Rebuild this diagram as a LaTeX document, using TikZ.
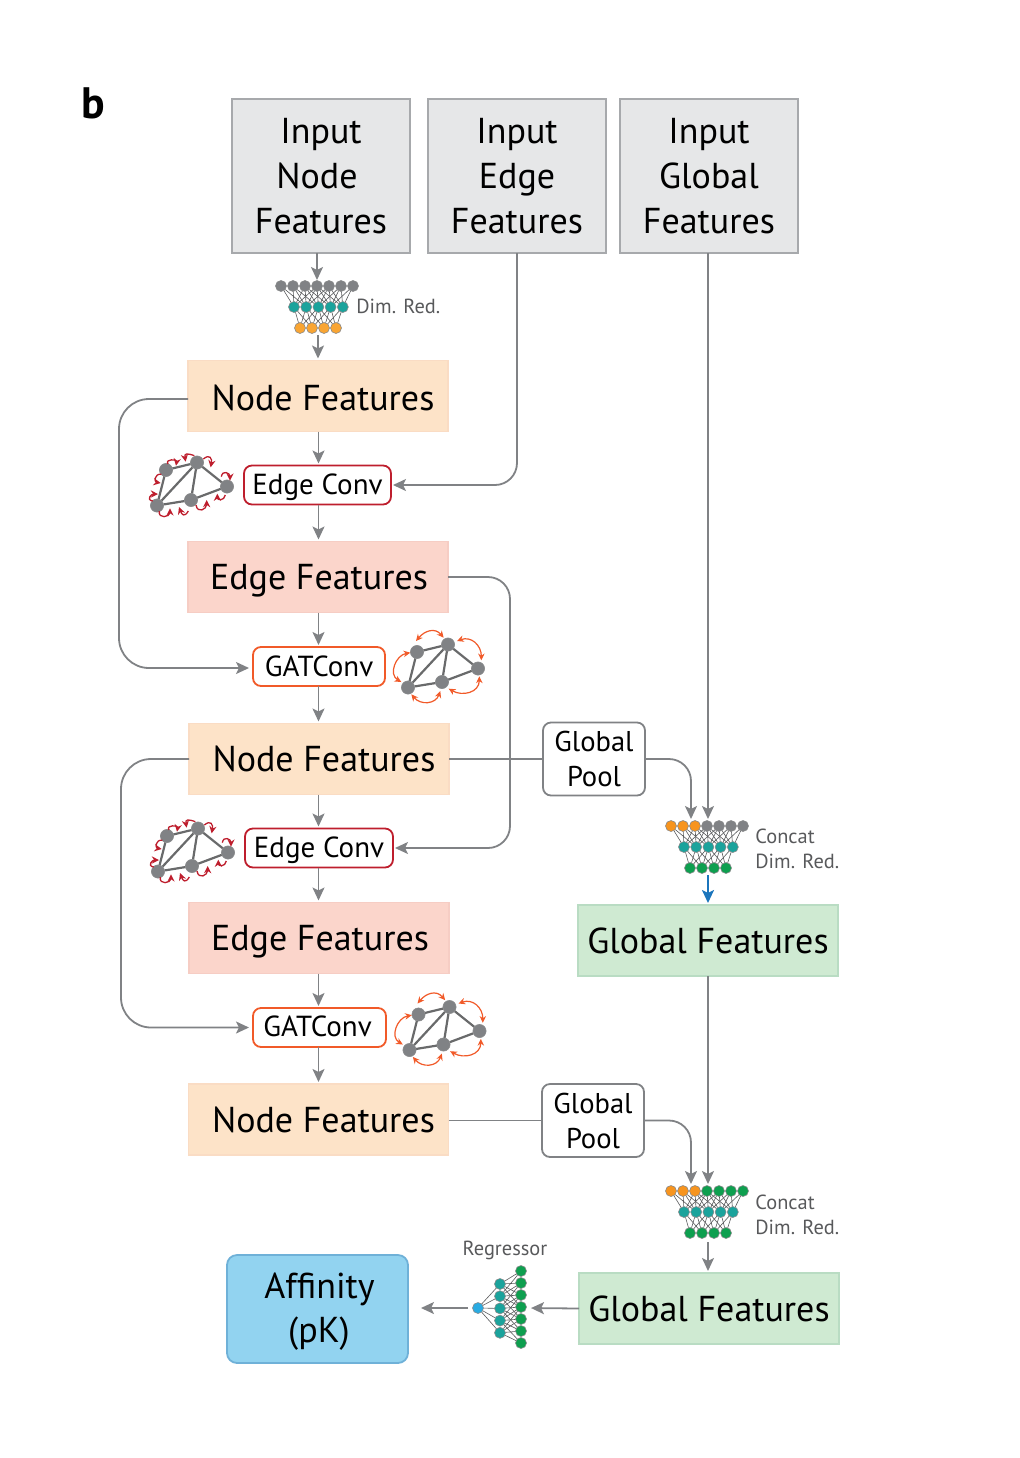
\documentclass[tikz,border=0pt]{standalone}
\usepackage{fontspec}
\setmainfont{PT Sans}
\usetikzlibrary{arrows.meta,backgrounds,calc}
\definecolor{lineg}{HTML}{808285}
\definecolor{darkg}{HTML}{58595B}
\definecolor{dotg}{HTML}{808285}
\definecolor{tealc}{HTML}{1BA39C}
\definecolor{orgc}{HTML}{F9A533}
\definecolor{orgd}{HTML}{F7941E}
\definecolor{grnc}{HTML}{0E9F4F}
\definecolor{bluc}{HTML}{29ABE2}
\definecolor{arrb}{HTML}{1B75BC}
\definecolor{redc}{HTML}{BE1E2D}
\definecolor{ornc}{HTML}{F15A29}
\definecolor{inpd}{HTML}{A7A9AC}\definecolor{inpf}{HTML}{E6E7E8}
\definecolor{nfd}{HTML}{FADCC4}\definecolor{nff}{HTML}{FDE3C8}
\definecolor{efd}{HTML}{F6CDC4}\definecolor{eff}{HTML}{FBD5CB}
\definecolor{gfd}{HTML}{B9DCC3}\definecolor{gff}{HTML}{CFEAD2}
\definecolor{afd}{HTML}{6FB1D8}\definecolor{aff}{HTML}{92D3F0}
\tikzset{
  box/.style={inner sep=0pt,outer sep=0pt,align=center,line width=0.9pt,text=black},
  inputbox/.style={box,draw=inpd,fill=inpf,minimum width=89pt,minimum height=77pt,font=\fontsize{18}{22.4}\selectfont},
  bigbox/.style={box,minimum width=130pt,minimum height=35.5pt,text height=13pt,text depth=0pt,font=\fontsize{18}{22}\selectfont},
  nfbox/.style={bigbox,draw=nfd,fill=nff},
  efbox/.style={bigbox,draw=efd,fill=eff,text height=12pt},
  gfbox/.style={bigbox,draw=gfd,fill=gff},
  opbox/.style={box,rounded corners=4pt,fill=white,minimum height=19.5pt,text height=9pt,text depth=0pt,font=\fontsize{14.5}{18}\selectfont},
  poolbox/.style={box,rounded corners=4pt,fill=white,draw=lineg,minimum width=51pt,minimum height=36.5pt,font=\fontsize{14.3}{17.5}\selectfont},
  affbox/.style={box,rounded corners=5pt,draw=afd,fill=aff,minimum width=90.5pt,minimum height=54pt,font=\fontsize{18}{22}\selectfont},
  captxt/.style={inner sep=0pt,text=darkg,font=\fontsize{10.2}{12.5}\selectfont},
  conn/.style={draw=lineg,line width=0.9pt,-{Stealth[length=6.5pt,width=6pt,inset=1.5pt]},shorten >=1pt},
  wire/.style={draw=lineg,line width=0.9pt},
  dot/.style={circle,draw=darkg!70,line width=0.3pt,minimum size=5.5pt,inner sep=0pt,outer sep=0pt},
  gdot/.style={circle,draw=darkg!70,fill=dotg,line width=0.3pt,minimum size=6.6pt,inner sep=0pt,outer sep=0pt},
  netw/.style={draw=darkg,line width=0.3pt},
  gedge/.style={draw=darkg!90,line width=1.1pt},
  redl/.style={draw=redc,line width=0.65pt,-{Stealth[length=3.6pt,width=3.6pt]},looseness=2},
  orgl/.style={draw=ornc,line width=0.6pt,looseness=1.25,{Stealth[length=3.4pt,width=3.2pt]}-{Stealth[length=3.4pt,width=3.2pt]}},
}
% feed-forward net: prefix, left x, top y, colours of the seven top dots, colour of bottom dots
\newcommand{\ffnet}[5]{%
  \foreach \i/\c in {#4}{\node[dot,fill=\c] (#1t\i) at ({#2+12*(\i-1)},#3) {};}
  \foreach \j in {1,...,5}{\node[dot,fill=tealc] (#1m\j) at ({#2+13+12.2*(\j-1)},{#3+21}) {};}
  \foreach \k in {1,...,4}{\node[dot,fill=#5] (#1b\k) at ({#2+19+12*(\k-1)},{#3+42}) {};}
  \begin{scope}[on background layer]
  \foreach \i in {1,...,7}{\foreach \j in {1,...,5}{
    \pgfmathtruncatemacro{\dd}{\i-\j}
    \ifnum\dd>-2\ifnum\dd<4 \draw[netw] (#1t\i) -- (#1m\j);\fi\fi}}
  \foreach \j in {1,...,5}{\foreach \k in {1,...,4}{
    \pgfmathtruncatemacro{\dd}{\j-\k}
    \ifnum\dd>-2\ifnum\dd<3 \draw[netw] (#1m\j) -- (#1b\k);\fi\fi}}
  \end{scope}}
% graph: prefix, x, y
\newcommand{\grph}[3]{%
  \node[gdot] (#1a) at (#2,#3) {};
  \node[gdot] (#1b) at ({#2+31},{#3-7.5}) {};
  \node[gdot] (#1c) at ({#2+61},{#3+16.5}) {};
  \node[gdot] (#1d) at ({#2+25},{#3+30}) {};
  \node[gdot] (#1e) at ({#2-9},{#3+35.5}) {};
  \begin{scope}[on background layer]
  \draw[gedge] (#1a)--(#1b) (#1a)--(#1e) (#1b)--(#1e) (#1b)--(#1d) (#1b)--(#1c) (#1c)--(#1d) (#1d)--(#1e);
  \end{scope}}
\newcommand{\redloops}[2]{%
  \begin{scope}[shift={(#1,#2)},x=0.16667pt,y=-0.16667pt,shift={(-78,-75)}]
  \draw[redl] (84,57) to[out=120,in=80] (108,62);
  \draw[redl] (64,88) to[out=170,in=170] (62,114);
  \draw[redl] (38,168) to[out=170,in=180] (54,147);
  \draw[redl] (58,198) to[out=260,in=270] (90,190);
  \draw[redl] (145,198) to[out=240,in=290] (117,186);
  \draw[redl] (168,180) to[out=280,in=270] (200,165);
  \draw[redl] (256,150) to[out=260,in=270] (232,146);
  \draw[redl] (244,95) to[out=80,in=90] (270,107);
  \draw[redl] (190,42) to[out=40,in=80] (212,67);
  \draw[redl] (163,32) to[out=160,in=100] (137,50);
  \end{scope}}
\newcommand{\orgloops}[2]{%
  \begin{scope}[shift={(#1,#2)},x=0.16667pt,y=-0.16667pt,shift={(-95,-95)}]
  \draw[orgl] (92,62) to[out=50,in=130] (175,52);
  \draw[orgl] (215,62) to[out=20,in=90] (288,120);
  \draw[orgl] (282,168) to[out=270,in=-30] (190,205);
  \draw[orgl] (165,212) to[out=250,in=-50] (78,222);
  \draw[orgl] (48,185) to[out=150,in=190] (75,97);
  \end{scope}}
\begin{document}
\begin{tikzpicture}[x=0.5pt,y=-0.5pt]
\useasboundingbox (0,0) rectangle (1019,1458);
\node[inner sep=0pt,font=\fontsize{22}{24}\bfseries\selectfont] (panel) at (93,103) {b};
% input boxes
\node[inputbox] (inN) at (321,176) {Input\\\hspace*{-4pt}Node\\Features};
\node[inputbox] (inE) at (517,176) {Input\\Edge\\Features};
\node[inputbox] (inG) at (709,176) {Input\\Global\\Features};
% main column
\node[nfbox,text height=14pt] (nf1) at (318,396) {\hspace*{5pt}Node Features};
\node[opbox,draw=redc,minimum width=73.5pt] (ec1) at (317.5,485) {Edge Conv};
\node[efbox] (ef1) at (318,577) {\hspace*{1pt}Edge Features};
\node[opbox,draw=ornc,minimum width=66pt,text height=10pt] (gc1) at (319,666.5) {GATConv};
\node[nfbox,text height=12pt] (nf2) at (319,759) {\hspace*{5pt}Node Features};
\node[opbox,draw=redc,minimum width=74pt] (ec2) at (319,848) {Edge Conv};
\node[efbox] (ef2) at (319,938) {\hspace*{1pt}Edge Features};
\node[opbox,draw=ornc,minimum width=66.5pt] (gc2) at (319.5,1027.5) {\hspace*{-2pt}GATConv};
\node[nfbox] (nf3) at (318.5,1119.5) {\hspace*{5pt}Node Features};
% right column
\node[poolbox] (gp1) at (594,759) {Global\\Pool};
\node[poolbox] (gp2) at (593,1120.5) {Global\\Pool};
\node[gfbox] (gf1) at (708,940.5) {Global Features};
\node[gfbox] (gf2) at (709,1308.5) {Global Features};
\node[affbox] (aff) at (317.5,1309) {\rule{0pt}{15pt}\hspace*{2pt}Affinity\\\hspace*{1.5pt}(pK)};
% networks
\ffnet{na}{281}{286}{1/dotg,2/dotg,3/dotg,4/dotg,5/dotg,6/dotg,7/dotg}{orgc}
\ffnet{nb}{671}{826}{1/orgd,2/orgd,3/orgd,4/dotg,5/dotg,6/dotg,7/dotg}{grnc}
\ffnet{nc}{671}{1191}{1/orgd,2/orgd,3/orgd,4/grnc,5/grnc,6/grnc,7/grnc}{grnc}
\node[captxt,anchor=west] (lda) at (356,306.5) {Dim. Red.};
\node[captxt,anchor=west] (lcb) at (755,836) {Concat};
\node[captxt,anchor=west] (ldb) at (755,861) {Dim. Red.};
\node[captxt,anchor=west] (lcc) at (755,1202) {Concat};
\node[captxt,anchor=west] (ldc) at (755,1227) {Dim. Red.};
\node[captxt] (lreg) at (505,1250) {Regressor};
% regressor
\node[dot,fill=bluc] (r0) at (478,1308) {};
\foreach \j in {1,...,5}{\node[dot,fill=tealc] (rm\j) at (500,{1284+12.2*(\j-1)}) {};}
\foreach \k in {1,...,7}{\node[dot,fill=grnc] (rr\k) at (521,{1271+12*(\k-1)}) {};}
\begin{scope}[on background layer]
\foreach \j in {1,...,5}{\draw[netw] (r0) -- (rm\j);
  \foreach \k in {1,...,7}{
    \pgfmathtruncatemacro{\dd}{\k-\j-1}
    \ifnum\dd>-3\ifnum\dd<3 \draw[netw] (rm\j) -- (rr\k);\fi\fi}}
\end{scope}
% graphs
\grph{ga}{166}{470}\redloops{166}{470}
\grph{gb}{167}{836}\redloops{167}{836}
\grph{gc}{417}{652}\orgloops{417}{652}
\grph{gd}{418.5}{1014.5}\orgloops{418.5}{1014.5}
% free ends on the nets
\coordinate (naT) at (317,282);
\coordinate (naB) at (318,335);
\coordinate (nbT) at (708,821);
\coordinate (nbTl) at (691,821);
\coordinate (nbB) at (708,875);
\coordinate (ncT) at (708,1186);
\coordinate (ncTl) at (691,1186);
\coordinate (ncB) at (708,1242);
\coordinate (rgL) at (468,1308);
\coordinate (rgR) at (529,1308);
\coordinate (afT) at (419,1308);
\coordinate (sp) at (318.5,0);
\coordinate (lA) at (119,399);
\coordinate (lB) at (119,668);
\coordinate (lC) at (121,759);
\coordinate (lD) at (121,1027.5);
% connectors
\draw[conn] (inN.south -| naT) -- (naT);
\draw[conn] (naB) -- (nf1.north -| naB);
\draw[conn] (nf1.south -| sp) -- (ec1.north -| sp);
\draw[conn] (ec1.south -| sp) -- (ef1.north -| sp);
\draw[conn] (ef1.south -| sp) -- (gc1.north -| sp);
\draw[conn] (gc1.south -| sp) -- (nf2.north -| sp);
\draw[conn] (nf2.south -| sp) -- (ec2.north -| sp);
\draw[conn] (ec2.south -| sp) -- (ef2.north -| sp);
\draw[conn] (ef2.south -| sp) -- (gc2.north -| sp);
\draw[conn] (gc2.south -| sp) -- (nf3.north -| sp);
\draw[conn,rounded corners=15pt,shorten >=2pt] (nf1.west |- lA) -- (lA) -- (lB) -- (gc1.west |- lB);
\draw[conn,rounded corners=15pt,shorten >=2pt] (nf2.west |- lC) -- (lC) -- (lD) -- (gc2.west |- lD);
\draw[conn,rounded corners=11pt] (inE.south) -- (517,485) -- (ec1.east);
\draw[conn,rounded corners=11pt] (ef1.east) -- (510,577) -- (510,848) -- (ec2.east);
\draw[wire] (nf2.east) -- (gp1.west |- nf2.east);
\draw[wire] (nf3.east |- gp2.west) -- (gp2.west);
\draw[conn,rounded corners=11pt] (gp1.east) -- (691,759) -- (nbTl);
\draw[conn,rounded corners=11pt] (gp2.east) -- (691,1120.5) -- (ncTl);
\draw[conn] (inG.south -| nbT) -- (nbT);
\draw[conn,draw=arrb,line width=1.1pt] (nbB) -- (gf1.north);
\draw[conn] (gf1.south) -- (ncT);
\draw[conn] (ncB) -- (gf2.north -| ncB);
\draw[conn] (gf2.west) -- (rgR);
\draw[conn] (rgL) -- (afT);
\end{tikzpicture}
\end{document}
